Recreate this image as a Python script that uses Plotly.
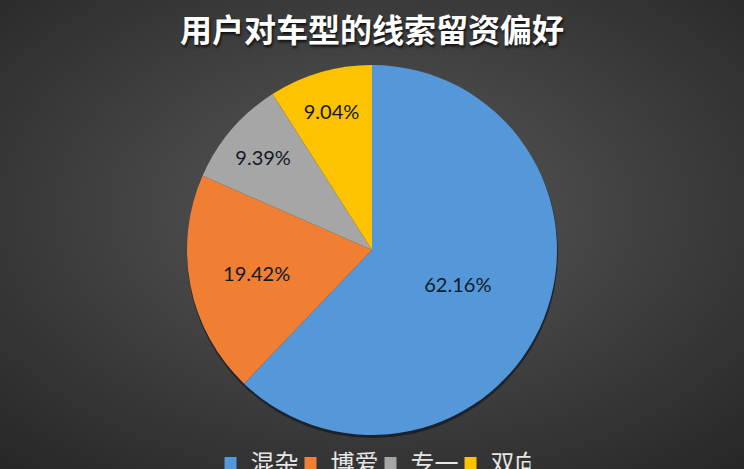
import plotly.graph_objects as go

# data
labels = ['混杂', '博爱', '专一', '双向']
values = [62.16, 19.42, 9.39, 9.04]
colors = ['#5598da', '#f07f33', '#a6a6a6', '#fdc200']

W, H = 744, 469
cx, cy, r = 372, 250, 185  # pie centre / radius in pixels


def px_x(x):
    return x / W


def px_y(y):
    return (H - y) / H


bg_svg = (
    "data:image/svg+xml;utf8,"
    "<svg xmlns='http://www.w3.org/2000/svg' width='744' height='469'>"
    "<defs><radialGradient id='g' cx='50%' cy='45%' r='75%'>"
    "<stop offset='0%' stop-color='%23595959'/>"
    "<stop offset='100%' stop-color='%23262626'/>"
    "</radialGradient></defs>"
    "<rect width='744' height='469' fill='url(%23g)'/></svg>"
)

fig = go.Figure(go.Pie(
    labels=labels,
    values=values,
    sort=False,
    direction='clockwise',
    rotation=0,
    marker=dict(colors=colors, line=dict(width=0)),
    texttemplate='%{value:.2f}%',
    textposition='inside',
    insidetextorientation='horizontal',
    textfont=dict(family='Lato', size=20, color='#111a26'),
    hoverinfo='label+value',
    domain=dict(x=[px_x(cx - r), px_x(cx + r)], y=[px_y(cy + r), px_y(cy - r)]),
))

# soft shadow under the pie
fig.add_shape(
    type='circle', xref='paper', yref='paper', layer='below',
    x0=px_x(cx - r), x1=px_x(cx + r + 1),
    y0=px_y(cy + r + 3), y1=px_y(cy - r + 2),
    fillcolor='rgba(10,20,35,0.6)', line=dict(width=0),
)

fig.update_layout(
    width=W, height=H,
    margin=dict(l=0, r=0, t=0, b=0, autoexpand=False),
    paper_bgcolor='#3f3f3f',
    images=[dict(source=bg_svg, xref='paper', yref='paper', x=0, y=1,
                 sizex=1, sizey=1, sizing='stretch', layer='below',
                 xanchor='left', yanchor='top')],
    title=dict(
        text='<b>用户对车型的线索留资偏好</b>',
        x=0.5, xanchor='center', y=1 - 31 / H, yanchor='middle',
        font=dict(family='Noto Sans CJK SC', size=32, color='white',
                  shadow='1px 2px 3px rgba(0,0,0,0.8)'),
    ),
    legend=dict(
        orientation='h', x=0.498, xanchor='center',
        y=px_y(441), yanchor='top',
        font=dict(family='Noto Sans CJK SC', size=24, color='#e6e6e6'),
        itemwidth=30, entrywidth=35, bgcolor='rgba(0,0,0,0)',
    ),
    showlegend=True,
)

fig.write_html(
    'out.html',
    config={'displayModeBar': False},
    post_script="document.body.style.margin='0';document.body.style.overflow='hidden';",
)
